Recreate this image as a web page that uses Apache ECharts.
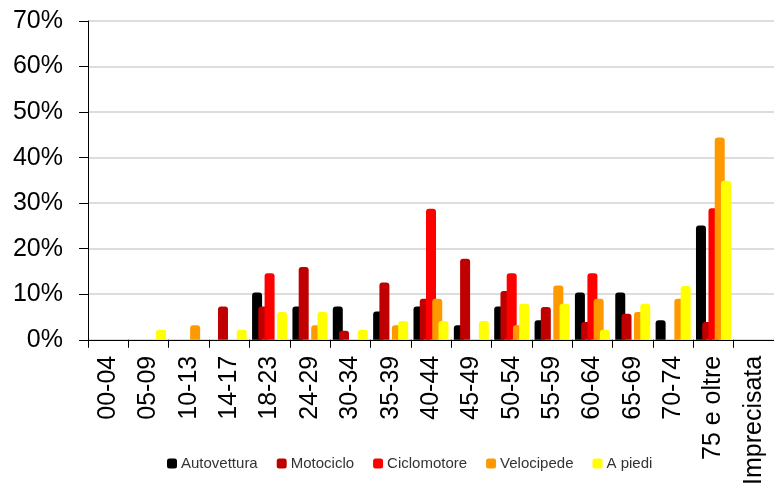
<!DOCTYPE html>
<html>
<head>
<meta charset="utf-8">
<script src="https://cdn.jsdelivr.net/npm/echarts@6/dist/echarts.min.js"></script>
<style>
  html, body { margin: 0; padding: 0; background: #ffffff; }
  #chart { width: 774px; height: 488px; }
</style>
</head>
<body>
<div id="chart"></div>
<script>
// Age classes on the horizontal axis
const categories = ['00-04', '05-09', '10-13', '14-17', '18-23', '24-29', '30-34', '35-39',
  '40-44', '45-49', '50-54', '55-59', '60-64', '65-69', '70-74', '75 e oltre', 'Imprecisata'];

// Share (%) per vehicle type
const autovettura = [0, 0, 0, 0, 10.4, 7.3, 7.3, 6.2, 7.3, 3.2, 7.3, 4.3, 10.4, 10.4, 4.3, 25.1, 0];
const motociclo   = [0, 0, 0, 7.3, 7.3, 16.0, 2.0, 12.6, 9.0, 17.8, 10.7, 7.2, 3.9, 5.7, 0, 3.9, 0];
const ciclomotore = [0, 0, 0, 0, 14.6, 0, 0, 0, 28.8, 0, 14.6, 0, 14.6, 0, 0, 28.9, 0];
const velocipede  = [0, 0, 3.2, 0, 0, 3.2, 0, 3.2, 9.0, 0, 3.2, 11.9, 9.0, 6.1, 9.0, 44.4, 0];
const aPiedi      = [0, 2.2, 0, 2.2, 6.1, 6.1, 2.2, 4.1, 4.1, 4.1, 7.9, 7.9, 2.2, 7.9, 11.8, 34.9, 0];

// Y axis ticks (%)
const yTicks = { min: 0, max: 70, step: 10 };

const seriesDefs = [
  { name: 'Autovettura', data: autovettura, color: '#000000' },
  { name: 'Motociclo',   data: motociclo,   color: '#c00000' },
  { name: 'Ciclomotore', data: ciclomotore, color: '#ff0000' },
  { name: 'Velocipede',  data: velocipede,  color: '#ff9900' },
  { name: 'A piedi',     data: aPiedi,      color: '#ffff00' }
];

const chart = echarts.init(document.getElementById('chart'), null, { renderer: 'canvas' });

chart.setOption({
  animation: false,
  backgroundColor: '#ffffff',
  textStyle: { fontFamily: 'Liberation Sans, Arial, sans-serif' },
  grid: { left: 88, top: 21, width: 693, height: 321, containLabel: false },
  legend: {
    left: 162,
    top: 451,
    icon: 'roundRect',
    itemWidth: 10,
    itemHeight: 10,
    itemGap: 19,
    textStyle: { fontSize: 15, color: '#333333', padding: [0, 0, 0, -1] },
    data: seriesDefs.map(s => s.name)
  },
  xAxis: {
    type: 'category',
    data: categories,
    axisLine: { lineStyle: { color: '#000000', width: 1 } },
    axisTick: { show: true, length: 8, lineStyle: { color: '#000000' } },
    axisLabel: {
      rotate: 90,
      interval: 0,
      margin: 16,
      fontSize: 25,
      color: '#000000'
    },
    z: 5
  },
  yAxis: {
    type: 'value',
    min: yTicks.min,
    max: yTicks.max,
    interval: yTicks.step,
    axisLine: { show: true, lineStyle: { color: '#000000', width: 1 } },
    axisTick: { show: true, length: 9, lineStyle: { color: '#000000' } },
    axisLabel: {
      formatter: '{value}%',
      fontSize: 25,
      margin: 25,
      color: '#000000'
    },
    splitLine: { lineStyle: { color: '#d2d2d2', width: 1.5 } }
  },
  series: seriesDefs.map(s => ({
    name: s.name,
    type: 'bar',
    data: s.data,
    barWidth: 10,
    barGap: '-37.5%',
    itemStyle: { color: s.color, borderRadius: [3, 3, 0, 0] }
  }))
});
</script>
</body>
</html>
